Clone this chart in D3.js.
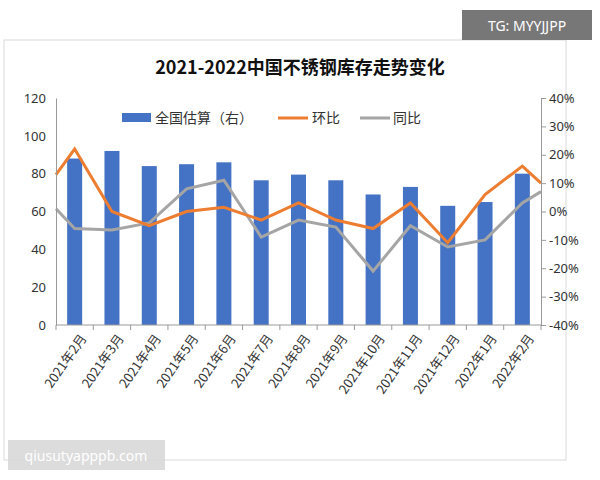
<!DOCTYPE html>
<html><head><meta charset="utf-8">
<script src="https://cdn.jsdelivr.net/npm/d3@7"></script>
<style>body{margin:0;background:#fff;font-family:"Noto Sans CJK SC","Noto Sans",sans-serif}</style>
</head><body>
<svg id="c" width="600" height="480"></svg>
<script>
const months = ["2021年2月","2021年3月","2021年4月","2021年5月","2021年6月","2021年7月","2021年8月","2021年9月","2021年10月","2021年11月","2021年12月","2022年1月","2022年2月"];
const stock = [88, 92, 84, 85, 86, 76.5, 79.5, 76.5, 69, 73, 63, 65, 80];
// line points: left edge, each month, right edge
const mom = [13, 22, 0, -5, 0, 1.5, -3, 3, -3, -6, 3, -11, 6, 16, 10];
const yoy = [1, -6, -6.5, -4, 8, 11, -9, -3, -5.5, -21, -5, -12.5, -10, 3, 7];
const leftTicks = [0, 20, 40, 60, 80, 100, 120];
const rightTicks = [-40, -30, -20, -10, 0, 10, 20, 30, 40];

const svg = d3.select("#c");
const L = 56, R = 541, T = 98, B = 325;

svg.append("rect").attr("x", 4).attr("y", 40).attr("width", 562).attr("height", 420)
  .attr("fill", "none").attr("stroke", "#d9d9d9");

svg.append("text").attr("x", 300).attr("y", 74).attr("text-anchor", "middle")
  .attr("font-size", 18).attr("font-weight", "bold").attr("fill", "#111")
  .text("2021-2022中国不锈钢库存走势变化");

const x = d3.scaleBand().domain(months).range([L, R]);
const yL = d3.scaleLinear().domain([0, 120]).range([B, T]);
const yR = d3.scaleLinear().domain([-40, 40]).range([B, T]);
const lx = i => i === 0 ? L : i === mom.length - 1 ? R : x(months[i - 1]) + x.bandwidth() / 2;

svg.append("g").selectAll("rect").data(stock).join("rect")
  .attr("x", (d, i) => x(months[i]) + x.bandwidth() / 2 - 7.5)
  .attr("width", 15).attr("y", d => yL(d)).attr("height", d => B - yL(d))
  .attr("fill", "#4472C4");

const line = ys => d3.line().x((d, i) => lx(i)).y(d => yR(d))(ys);
svg.append("path").attr("d", line(yoy)).attr("fill", "none").attr("stroke", "#A5A5A5").attr("stroke-width", 3);
svg.append("path").attr("d", line(mom)).attr("fill", "none").attr("stroke", "#ED7D31").attr("stroke-width", 3);

const ga = svg.append("g").attr("transform", `translate(${L},0)`)
  .call(d3.axisLeft(yL).tickValues(leftTicks).tickSize(0).tickPadding(10));
const gr = svg.append("g").attr("transform", `translate(${R},0)`)
  .call(d3.axisRight(yR).tickValues(rightTicks).tickSize(5).tickFormat(d => d + "%"));
[ga, gr].forEach(g => {
  g.selectAll("text").attr("font-size", 13).attr("fill", "#333").attr("font-family", "Noto Sans");
  g.selectAll("line,path").attr("stroke", "#999");
});
gr.selectAll("text").attr("x", 8);

const gx = svg.append("g").attr("transform", `translate(0,${B})`);
gx.append("line").attr("x1", L).attr("x2", R).attr("stroke", "#999");
gx.selectAll("line.t").data(months.concat("end")).join("line").attr("class", "t")
  .attr("x1", (d, i) => L + i * x.step()).attr("x2", (d, i) => L + i * x.step())
  .attr("y2", 5).attr("stroke", "#999");
gx.selectAll("text").data(months).join("text")
  .attr("transform", d => `translate(${x(d) + x.bandwidth() / 2 + 5},8) rotate(-55)`)
  .attr("text-anchor", "end").attr("dy", "0.7em").attr("font-size", 13).attr("fill", "#333")
  .text(d => d);

// legend
const lg = svg.append("g").attr("font-size", 14).attr("fill", "#333");
lg.append("rect").attr("x", 122).attr("y", 113).attr("width", 29).attr("height", 9).attr("fill", "#4472C4");
lg.append("text").attr("x", 155).attr("y", 123).text("全国估算（右）");
lg.append("line").attr("x1", 278).attr("x2", 308).attr("y1", 118).attr("y2", 118).attr("stroke", "#ED7D31").attr("stroke-width", 3);
lg.append("text").attr("x", 312).attr("y", 123).text("环比");
lg.append("line").attr("x1", 360).attr("x2", 390).attr("y1", 118).attr("y2", 118).attr("stroke", "#A5A5A5").attr("stroke-width", 3);
lg.append("text").attr("x", 393).attr("y", 123).text("同比");

// watermarks
svg.append("rect").attr("x", 462).attr("y", 10).attr("width", 130).attr("height", 30).attr("fill", "#777");
svg.append("text").attr("x", 527).attr("y", 31).attr("text-anchor", "middle").attr("font-size", 14)
  .attr("fill", "#fff").attr("font-family", "Noto Sans").text("TG: MYYJJPP");
svg.append("rect").attr("x", 8).attr("y", 440).attr("width", 157).attr("height", 30).attr("fill", "#d8d8d8").attr("opacity", 0.9);
svg.append("text").attr("x", 86).attr("y", 461).attr("text-anchor", "middle").attr("font-size", 14)
  .attr("fill", "#fff").attr("font-family", "Noto Sans").text("qiusutyapppb.com");
</script>
</body></html>
